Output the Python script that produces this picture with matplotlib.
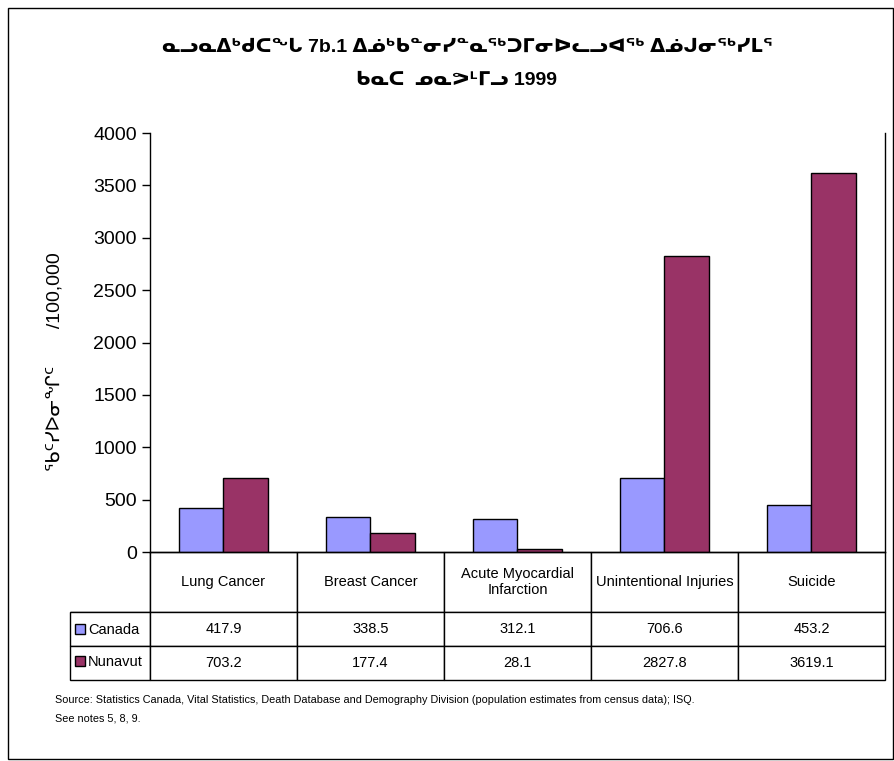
import numpy as np
import matplotlib
matplotlib.use("Agg")
import matplotlib.pyplot as plt
from matplotlib.patches import Rectangle

# fuentes: Liberation para latin, DejaVu para silabico inuktitut
FONT = ['Liberation Sans', 'DejaVu Sans']
plt.rcParams['font.family'] = FONT

# ---------------- datos ----------------
categories = ['Lung Cancer', 'Breast Cancer', 'Acute Myocardial\nInfarction',
              'Unintentional Injuries', 'Suicide']
canada = [417.9, 338.5, 312.1, 706.6, 453.2]
nunavut = [703.2, 177.4, 28.1, 2827.8, 3619.1]
series_names = ['Canada', 'Nunavut']
yticks = [0, 500, 1000, 1500, 2000, 2500, 3000, 3500, 4000]

title_1 = 'ᓇᓗᓇᐃᒃᑯᑕᖓ 7b.1 ᐃᓅᒃᑲᓐᓂᓯᓐᓇᖅᑐᒥᓂᐅᓚᓗᐊᖅ ᐃᓅᒍᓂᖅᓯᒪᕐ'
title_2 = 'ᑲᓇᑕ  ᓄᓇᕗᒻᒥᓗ 1999'
ylabel = 'ᖃᑦᓯᐅᓂᖏᑦ       /100,000'
source = ('Source: Statistics Canada, Vital Statistics, Death Database and Demography Division '
          '(population estimates from census data); ISQ.')
notes = 'See notes 5, 8, 9.'

COL_CAN = '#9999FF'
COL_NUN = '#993366'

fig = plt.figure(figsize=(8.95, 7.61), dpi=100)
ax = fig.add_axes([0.1676, 0.2746, 0.8212, 0.5506])

x = np.arange(len(categories))
w = 0.3
b1 = ax.bar(x - w / 2, canada, w, color=COL_CAN, edgecolor='black', linewidth=1)
b2 = ax.bar(x + w / 2, nunavut, w, color=COL_NUN, edgecolor='black', linewidth=1)

ax.set_xlim(-0.5, len(categories) - 0.5)
ax.set_ylim(0, 4000)
ax.set_yticks(yticks)
ax.tick_params(axis='y', labelsize=14, direction='out', length=6, width=1)
ax.set_xticks([])
ax.spines['top'].set_visible(False)
for s in ['left', 'right', 'bottom']:
    ax.spines[s].set_linewidth(1)
ax.set_ylabel(ylabel, fontsize=14, family=FONT)
ax.yaxis.set_label_coords(-0.118, 0.455)

# tabla de datos bajo el grafico; la primera columna guarda la leyenda
cell_text = [[''] + [f'{v:.1f}' for v in canada], [''] + [f'{v:.1f}' for v in nunavut]]
tbl = ax.table(cellText=cell_text, colLabels=[''] + categories,
               cellLoc='center', bbox=[-80 / 735, -0.3055, 815 / 735, 0.3055])
tbl.auto_set_font_size(False)
tbl.set_fontsize(10.5)
for (r, c), cell in tbl.get_celld().items():
    cell.set_linewidth(1)
    cell.set_width(80 if c == 0 else 147)
    cell.set_height(60 if r == 0 else 34)
    cell.get_text().set_family(FONT)
tbl[0, 0].visible_edges = 'RB'

# leyenda dentro de la columna de etiquetas
ax.legend([b1, b2], series_names, loc='center left', bbox_to_anchor=(-0.102, -0.2243),
          frameon=False, fontsize=10.5, handlelength=0.7, handleheight=0.7,
          handletextpad=0.2, borderpad=0, borderaxespad=0, labelspacing=1.25)

fig.text(0.522, 0.938, title_1, ha='center', va='center', fontsize=14, fontweight='bold', family=FONT)
fig.text(0.51, 0.895, title_2, ha='center', va='center', fontsize=14, fontweight='bold', family=FONT)

fig.text(0.0615, 0.080, source, fontsize=7.8, va='center')
fig.text(0.0615, 0.056, notes, fontsize=7.8, va='center')

# marco exterior
fig.patches.append(Rectangle((8 / 895, 2 / 761), 885 / 895, 751 / 761, transform=fig.transFigure,
                             fill=False, edgecolor='black', linewidth=1))

fig.savefig('out.png', dpi=100)
